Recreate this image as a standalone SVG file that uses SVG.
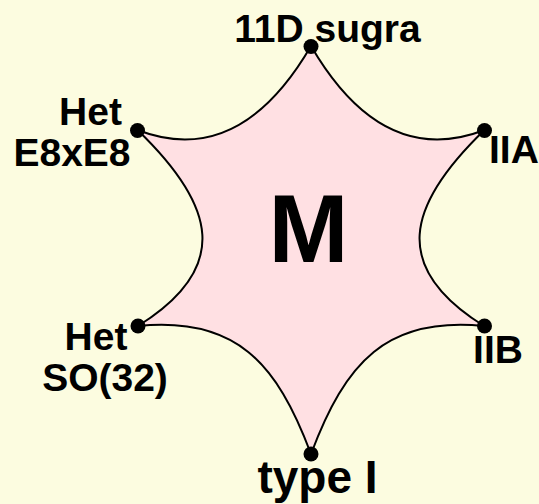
<svg xmlns="http://www.w3.org/2000/svg" width="539" height="504" viewBox="0 0 539 504">
<style>
.lbl{font-family:"Liberation Sans",Arial,sans-serif;font-weight:bold;font-size:39px;fill:#000;text-anchor:middle}
.edge{fill:none;stroke:#000;stroke-width:2}
.dot{fill:#000}
</style>
<rect width="539" height="504" fill="#FCFCE0"/>
<path id="star" fill="#FFE0E3" d="M311,46 C352.3,116.8 408.4,159.4 484.5,130 C405.8,205.9 390.5,267.7 484,326 C386.5,316.2 345.3,362.3 311,454 C276.7,362.3 235.5,316.2 138,326 C231.5,267.7 216.2,205.9 137.5,130 C213.6,159.4 269.7,116.8 311,46 Z"/>
<g id="connectors">
<path class="edge" d="M311,46 C352.3,116.8 408.4,159.4 484.5,130"/>
<path class="edge" d="M484.5,130 C405.8,205.9 390.5,267.7 484,326"/>
<path class="edge" d="M484,326 C386.5,316.2 345.3,362.3 311,454"/>
<path class="edge" d="M311,454 C276.7,362.3 235.5,316.2 138,326"/>
<path class="edge" d="M138,326 C231.5,267.7 216.2,205.9 137.5,130"/>
<path class="edge" d="M137.5,130 C213.6,159.4 269.7,116.8 311,46"/>
</g>
<g id="node-11d">
<circle class="dot" cx="311" cy="46.5" r="7.5"/>
<text class="lbl" x="327.5" y="42">11D sugra</text>
</g>
<g id="node-iia">
<circle class="dot" cx="484.5" cy="130.5" r="7.5"/>
<text class="lbl" x="489" y="163" style="text-anchor:start">IIA</text>
</g>
<g id="node-iib">
<circle class="dot" cx="484.5" cy="326" r="7.5"/>
<text class="lbl" x="498" y="363">IIB</text>
</g>
<g id="node-typeI">
<circle class="dot" cx="311" cy="454" r="7.5"/>
<text class="lbl" x="317.5" y="493" style="font-size:46px">type I</text>
</g>
<g id="node-hetso">
<circle class="dot" cx="138" cy="326" r="7.5"/>
<text class="lbl" x="96" y="350">Het</text>
<text class="lbl" x="105" y="391">SO(32)</text>
</g>
<g id="node-hete8">
<circle class="dot" cx="137.5" cy="130.5" r="7.5"/>
<text class="lbl" x="90.5" y="125">Het</text>
<text class="lbl" x="72" y="166">E8xE8</text>
</g>
<g id="node-m">
<text class="lbl" x="308.5" y="262" style="font-size:96px">M</text>
</g>
</svg>
